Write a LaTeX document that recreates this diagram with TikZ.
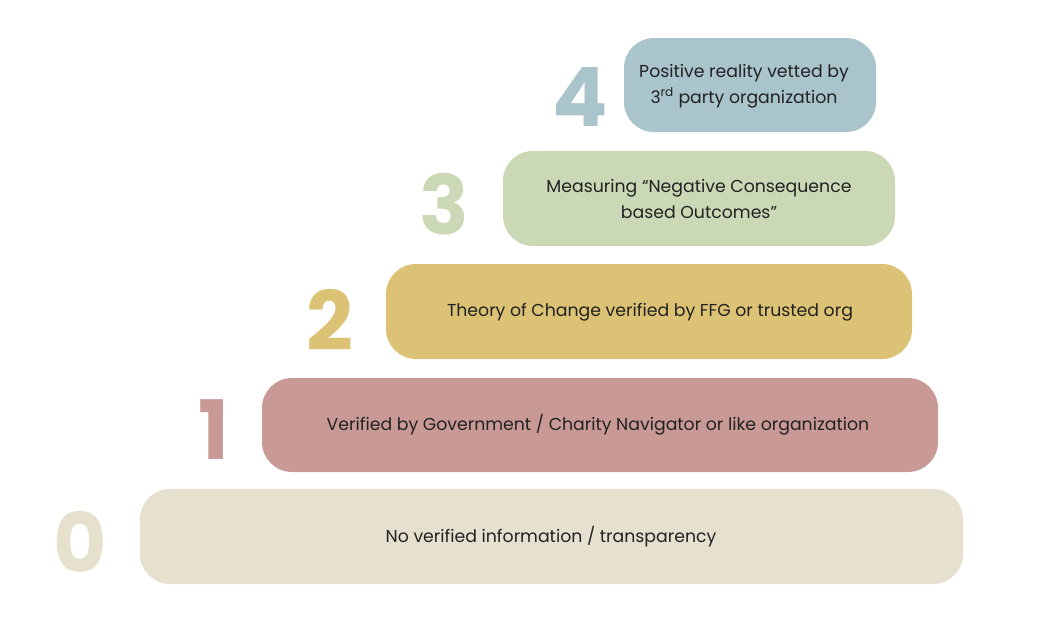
\documentclass[tikz,border=0pt]{standalone}
\usepackage{fontspec}
\setmainfont{Poppins}
\definecolor{cfour}{HTML}{A9C4CB}
\definecolor{cthree}{HTML}{CBD8B5}
\definecolor{ctwo}{HTML}{DCC274}
\definecolor{cone}{HTML}{C99A95}
\definecolor{czero}{HTML}{E6E0CF}
\definecolor{txt}{HTML}{222222}
\begin{document}
\begin{tikzpicture}[x=1pt,y=-1pt,
  tier/.style={rounded corners=30pt, draw=none},
  lab/.style={text=txt, font=\fontsize{17.3}{26}\selectfont, align=center},
  num/.style={font=\fontsize{82}{82}\selectfont\bfseries, inner sep=0pt}]
\useasboundingbox (0,0) rectangle (1052,632);
% tiers
\fill[tier, fill=cfour]  (624,38)  rectangle (876,132);
\fill[tier, fill=cthree] (503,151) rectangle (895,246);
\fill[tier, fill=ctwo]   (386,264) rectangle (912,359);
\fill[tier, fill=cone]   (262,378) rectangle (938,472);
\fill[tier, fill=czero]  (140,489) rectangle (963,584);
% labels
\node[lab] (t4) at (744,86) {Positive reality vetted by\\3\textsuperscript{rd} party organization};
\node[lab] (t3) at (699,199) {Measuring “Negative Consequence\\based Outcomes”};
\node[lab] (t2) at (650,312) {Theory of Change verified by FFG or trusted org};
\node[lab] (t1) at (598,425) {Verified by Government / Charity Navigator or like organization};
\node[lab] (t0) at (551,537) {No verified information / transparency};
% numbers
\node[num, text=cfour]  (n4) at (580,97)  {4};
\node[num, text=cthree] (n3) at (444,204) {3};
\node[num, text=ctwo]   (n2) at (330,320) {2};
\node[num, text=cone]   (n1) at (214,430) {1};
\node[num, text=czero]  (n0) at (80,542)  {0};
\end{tikzpicture}
\end{document}
